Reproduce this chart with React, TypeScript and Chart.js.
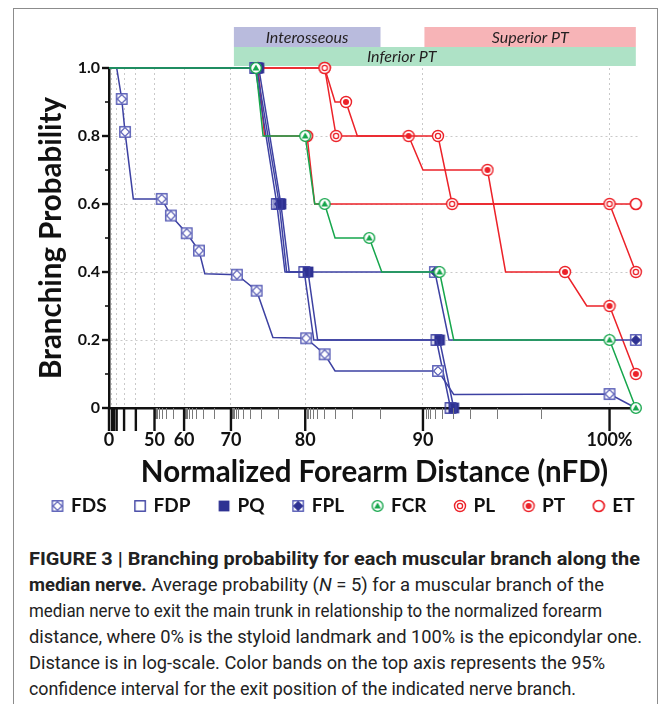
import React, { useEffect, useLayoutEffect, useRef } from 'react';
import { Chart, registerables } from 'chart.js';

Chart.register(...registerables);

// ---------- axis transform (log-like nFD axis) ----------
const toV = (n: number) => Math.pow(10, n / 50);
const X_MIN_NFD = 0;
const X_MAX_NFD = 101.27;

// ---------- ticks ----------
const xGridNFD = [0, 10, 20, 30, 40, 50, 60, 70, 80, 90, 100];
const xTickLabels = ['0', '', '', '', '', '50', '60', '70', '80', '90', '100%'];
const xLongMarksNFD = [0, 10, 15, 20, 30, 40, 50, 60, 70, 80, 90, 100];
const xMinorIntervals = [50, 60, 70, 80, 90, 100];
const yTickVals = [0, 0.2, 0.4, 0.6, 0.8, 1.0];
const yTickLabels = ['0', '0.2', '0.4', '0.6', '0.8', '1.0'];
const yMinorVals = [0.1, 0.3, 0.5, 0.7, 0.9];

// ---------- confidence bands on top axis ----------
const bandNames = ['Interosseous', 'Superior PT', 'Inferior PT'];
const bandStart = [70.5, 90.1, 70.5];
const bandEnd = [86.9, 101.1, 101.1];
const bandLabelAt = [80.2, 96.3, 88.5];
const bandRow = [0, 0, 1];
const bandColors = ['#b9bbdd', '#f7b4b7', '#aee2c6'];

// ---------- series (x in nFD, y probability, m = marker shown) ----------
const fdsX = [0, 20.1, 27.3, 31.0, 38.2, 52.9, 56.1, 60.7, 63.7, 65.0, 71.0, 74.0, 76.2, 80.1, 82.0, 83.0, 91.0, 92.0, 100.0, 101.1];
const fdsY = [1.0, 1.0, 0.909, 0.812, 0.615, 0.615, 0.566, 0.514, 0.463, 0.395, 0.392, 0.345, 0.207, 0.205, 0.158, 0.109, 0.109, 0.04, 0.041, 0.0];
const fdsM = [0, 0, 1, 1, 0, 1, 1, 1, 1, 0, 1, 1, 0, 1, 1, 0, 1, 0, 1, 0];

const fdpX = [0, 73.8, 76.7, 77.7, 79.9, 80.9, 90.9, 91.8];
const fdpY = [1.0, 1.0, 0.6, 0.4, 0.4, 0.2, 0.2, 0.0];
const fdpM = [0, 1, 1, 0, 1, 0, 1, 1];

const pqX = [0, 74.3, 77.2, 78.2, 80.3, 81.3, 91.1, 92.0];
const pqY = [1.0, 1.0, 0.6, 0.4, 0.4, 0.2, 0.2, 0.0];
const pqM = [0, 1, 1, 0, 1, 0, 1, 1];

const fplX = [0, 74.0, 77.0, 77.9, 90.8, 91.7, 101.1];
const fplY = [1.0, 1.0, 0.6, 0.4, 0.4, 0.2, 0.2];
const fplM = [0, 1, 1, 0, 1, 0, 1];

const fcrX = [0, 73.9, 74.9, 80.0, 81.0, 82.0, 83.0, 86.0, 87.0, 91.1, 92.0, 100.0, 101.1];
const fcrY = [1.0, 1.0, 0.8, 0.8, 0.6, 0.6, 0.5, 0.5, 0.4, 0.4, 0.2, 0.2, 0.0];
const fcrM = [0, 1, 0, 1, 0, 1, 0, 1, 0, 1, 0, 1, 1];

const plX = [0, 82.0, 83.1, 91.0, 91.9, 100.0, 101.1];
const plY = [1.0, 1.0, 0.8, 0.8, 0.6, 0.6, 0.4];
const plM = [0, 1, 1, 1, 1, 1, 1];

const ptX = [0, 82.0, 83.0, 84.0, 85.0, 89.0, 90.0, 94.0, 95.0, 98.0, 99.0, 100.0, 101.1];
const ptY = [1.0, 1.0, 0.9, 0.9, 0.8, 0.8, 0.7, 0.7, 0.4, 0.4, 0.3, 0.3, 0.1];
const ptM = [0, 1, 0, 1, 0, 1, 0, 1, 0, 1, 0, 1, 1];

const etX = [0, 74.2, 75.1, 80.2, 81.0, 101.1];
const etY = [1.0, 1.0, 0.8, 0.8, 0.6, 0.6];
const etM = [0, 1, 0, 1, 0, 1];

const BLUE = '#3d41a2';
const NAVY = '#2e3192';
const GREEN = '#16a64c';
const RED = '#ec2229';

type Kind = 'FDS' | 'FDP' | 'PQ' | 'FPL' | 'FCR' | 'PL' | 'PT' | 'ET';

function makeMarker(kind: Kind): HTMLCanvasElement {
  const s = 14;
  const c = document.createElement('canvas');
  c.width = s;
  c.height = s;
  const g = c.getContext('2d')!;
  const m = s / 2;
  const sq = (stroke: string, fill: string | null) => {
    const h = 5.2;
    if (fill) {
      g.fillStyle = fill;
      g.fillRect(m - h, m - h, 2 * h, 2 * h);
    }
    g.strokeStyle = stroke;
    g.lineWidth = 1.4;
    g.strokeRect(m - h, m - h, 2 * h, 2 * h);
  };
  const diamond = (stroke: string, fill: string) => {
    const d = 4.4;
    g.beginPath();
    g.moveTo(m, m - d);
    g.lineTo(m + d, m);
    g.lineTo(m, m + d);
    g.lineTo(m - d, m);
    g.closePath();
    g.fillStyle = fill;
    g.fill();
    g.strokeStyle = stroke;
    g.lineWidth = 1.1;
    g.stroke();
  };
  const circ = (r: number, stroke: string, fill: string | null, lw = 1.4) => {
    g.beginPath();
    g.arc(m, m, r, 0, Math.PI * 2);
    if (fill) {
      g.fillStyle = fill;
      g.fill();
    }
    g.strokeStyle = stroke;
    g.lineWidth = lw;
    g.stroke();
  };
  switch (kind) {
    case 'FDS':
      sq('#5358b4', '#ffffff');
      diamond('#5358b4', '#ffffff');
      break;
    case 'FDP':
      sq(BLUE, null);
      break;
    case 'PQ':
      g.fillStyle = NAVY;
      g.fillRect(m - 5.4, m - 5.4, 10.8, 10.8);
      break;
    case 'FPL':
      sq('#5358b4', '#ffffff');
      diamond(NAVY, NAVY);
      break;
    case 'FCR':
      circ(5.4, GREEN, '#ffffff');
      g.beginPath();
      g.moveTo(m, m - 3.6);
      g.lineTo(m + 3.4, m + 2.6);
      g.lineTo(m - 3.4, m + 2.6);
      g.closePath();
      g.fillStyle = GREEN;
      g.fill();
      break;
    case 'PL':
      circ(5.5, RED, '#ffffff');
      circ(2.6, RED, null, 1.3);
      break;
    case 'PT':
      circ(5.5, RED, '#ffffff');
      g.beginPath();
      g.arc(m, m, 3.0, 0, Math.PI * 2);
      g.fillStyle = RED;
      g.fill();
      break;
    case 'ET':
      circ(5.5, RED, '#ffffff', 1.7);
      break;
  }
  return c;
}

const decorPlugin = {
  id: 'decor',
  beforeDatasetsDraw(chart: any) {
    const { ctx, chartArea: a, scales } = chart;
    const x = scales.x;
    ctx.save();
    for (let i = 0; i < bandNames.length; i++) {
      const x1 = x.getPixelForValue(toV(bandStart[i]));
      const x2 = x.getPixelForValue(toV(bandEnd[i]));
      const top = a.top - 41 + bandRow[i] * 20;
      const h = bandRow[i] === 0 ? 20 : 19;
      ctx.fillStyle = bandColors[i];
      ctx.fillRect(x1, top, x2 - x1, h);
      ctx.fillStyle = '#231f20';
      ctx.font = 'italic 16px Lato';
      ctx.textAlign = 'center';
      ctx.textBaseline = 'middle';
      ctx.fillText(bandNames[i], x.getPixelForValue(toV(bandLabelAt[i])), top + h / 2 + 0.5);
    }
    ctx.restore();
  },
  afterDraw(chart: any) {
    const { ctx, chartArea: a, scales } = chart;
    const x = scales.x;
    const y = scales.y;
    ctx.save();
    // x minor ticks
    ctx.strokeStyle = '#7a7a7a';
    ctx.lineWidth = 1;
    for (let i = 0; i < xMinorIntervals.length - 1; i++) {
      const va = toV(xMinorIntervals[i]);
      const vb = toV(xMinorIntervals[i + 1]);
      for (let k = 1; k <= 9; k++) {
        const v = va + (vb - va) * Math.pow(10, -0.2 * k);
        const px = Math.round(x.getPixelForValue(v)) + 0.5;
        ctx.beginPath();
        ctx.moveTo(px, a.bottom);
        ctx.lineTo(px, a.bottom + 11);
        ctx.stroke();
      }
    }
    // x long marks
    ctx.strokeStyle = '#111';
    ctx.lineWidth = 2.4;
    xLongMarksNFD.forEach((n) => {
      const px = x.getPixelForValue(toV(n));
      ctx.beginPath();
      ctx.moveTo(px, a.bottom);
      ctx.lineTo(px, a.bottom + 23);
      ctx.stroke();
    });
    // y ticks
    yTickVals.forEach((v) => {
      const py = y.getPixelForValue(v);
      ctx.lineWidth = 2.4;
      ctx.beginPath();
      ctx.moveTo(a.left - 7, py);
      ctx.lineTo(a.left, py);
      ctx.stroke();
    });
    yMinorVals.forEach((v) => {
      const py = y.getPixelForValue(v);
      ctx.lineWidth = 1.6;
      ctx.beginPath();
      ctx.moveTo(a.left - 4, py);
      ctx.lineTo(a.left, py);
      ctx.stroke();
    });
    ctx.restore();
  },
};

const captionWidths = [611, 575, 573, 613, 576, 547];

function Caption() {
  const refs = useRef<(HTMLSpanElement | null)[]>([]);
  useLayoutEffect(() => {
    refs.current.forEach((el, i) => {
      if (!el) return;
      el.style.transform = 'none';
      const w = el.getBoundingClientRect().width;
      if (w > 0) el.style.transform = `scaleX(${captionWidths[i] / w})`;
    });
  }, []);
  const lineStyle: React.CSSProperties = { height: 26, lineHeight: '26px', whiteSpace: 'nowrap' };
  const spanStyle: React.CSSProperties = { display: 'inline-block', transformOrigin: '0 50%' };
  const lines: React.ReactNode[] = [
    <b>FIGURE 3 | Branching probability for each muscular branch along the</b>,
    <>
      <b>median nerve.</b> Average probability (<i>N</i> = 5) for a muscular branch of the
    </>,
    <>median nerve to exit the main trunk in relationship to the normalized forearm</>,
    <>distance, where 0% is the styloid landmark and 100% is the epicondylar one.</>,
    <>Distance is in log-scale. Color bands on the top axis represents the 95%</>,
    <>confidence interval for the exit position of the indicated nerve branch.</>,
  ];
  return (
    <div
      style={{
        position: 'absolute',
        left: 29,
        top: 546,
        fontFamily: 'Roboto, "Liberation Sans", sans-serif',
        fontSize: 18,
        color: '#222',
      }}
    >
      {lines.map((l, i) => (
        <div key={i} style={lineStyle}>
          <span
            ref={(el) => {
              refs.current[i] = el;
            }}
            style={spanStyle}
          >
            {l}
          </span>
        </div>
      ))}
    </div>
  );
}

export default function App() {
  const canvasRef = useRef<HTMLCanvasElement>(null);

  useEffect(() => {
    if (!canvasRef.current) return;
    Chart.defaults.font.family = 'Lato, "Open Sans", sans-serif';
    const series = [
      { label: 'FDS', xs: fdsX, ys: fdsY, ms: fdsM, color: BLUE },
      { label: 'FDP', xs: fdpX, ys: fdpY, ms: fdpM, color: BLUE },
      { label: 'PQ', xs: pqX, ys: pqY, ms: pqM, color: BLUE },
      { label: 'FPL', xs: fplX, ys: fplY, ms: fplM, color: BLUE },
      { label: 'FCR', xs: fcrX, ys: fcrY, ms: fcrM, color: GREEN },
      { label: 'PL', xs: plX, ys: plY, ms: plM, color: RED },
      { label: 'PT', xs: ptX, ys: ptY, ms: ptM, color: RED },
      { label: 'ET', xs: etX, ys: etY, ms: etM, color: RED },
    ];
    const chart = new Chart(canvasRef.current, {
      type: 'line',
      data: {
        datasets: series.map((s) => ({
          label: s.label,
          data: s.xs.map((xv, j) => ({ x: toV(xv), y: s.ys[j] })),
          borderColor: s.color,
          backgroundColor: s.color,
          borderWidth: 1.5,
          tension: 0,
          clip: false,
          order: s.label === 'FCR' ? -1 : 0,
          pointStyle: makeMarker(s.label as Kind),
          pointRadius: (c: any) => (s.ms[c.dataIndex] ? 6 : 0),
          pointHoverRadius: (c: any) => (s.ms[c.dataIndex] ? 6 : 0),
        })),
      },
      options: {
        animation: false,
        responsive: false,
        events: [],
        layout: { padding: { left: 19, right: 0, top: 68, bottom: 4.5 } },
        plugins: {
          tooltip: { enabled: false },
          legend: {
            display: true,
            position: 'bottom',
            align: 'center',
            labels: {
              usePointStyle: true,
              boxWidth: 8,
              padding: 29.5,
              color: '#111',
              font: { size: 19, weight: 'bold' },
              sort: (a: any, b: any) => a.datasetIndex - b.datasetIndex,
            },
          },
        },
        scales: {
          x: {
            type: 'linear',
            min: toV(X_MIN_NFD),
            max: toV(X_MAX_NFD),
            afterBuildTicks: (s: any) => {
              s.ticks = xGridNFD.map((n) => ({ value: toV(n) }));
            },
            afterFit: (s: any) => {
              s.height = 59;
            },
            ticks: {
              autoSkip: false,
              maxRotation: 0,
              minRotation: 0,
              padding: 21,
              color: '#111',
              font: { size: 18, weight: 'bold' },
              callback: (_v: any, i: number) => xTickLabels[i],
            },
            grid: {
              drawTicks: false,
              lineWidth: 1,
              color: (c: any) => (c.index === 0 ? 'rgba(0,0,0,0)' : '#c9c9c9'),
            },
            border: { display: true, color: '#111', width: 2.5, dash: [2, 3] },
            title: {
              display: true,
              text: 'Normalized Forearm Distance (nFD)',
              color: '#111',
              font: { size: 29.5, weight: 'bold' },
              padding: { top: 0, bottom: -23.5 },
            },
          },
          y: {
            type: 'linear',
            min: 0,
            max: 1,
            afterBuildTicks: (s: any) => {
              s.ticks = yTickVals.map((v) => ({ value: v }));
            },
            afterFit: (s: any) => {
              s.width = 90;
            },
            ticks: {
              padding: 9,
              color: '#111',
              font: { size: 16, weight: 'bold' },
              callback: (_v: any, i: number) => yTickLabels[i],
            },
            grid: {
              drawTicks: false,
              lineWidth: 1,
              color: (c: any) => (c.index > 0 && c.index < yTickVals.length - 1 ? '#c9c9c9' : 'rgba(0,0,0,0)'),
            },
            border: { display: true, color: '#111', width: 2.5, dash: [2, 3] },
            title: {
              display: true,
              text: 'Branching Probability',
              color: '#111',
              font: { size: 29.5, weight: 'bold' },
              padding: { top: 15, bottom: 0 },
            },
          },
          yRight: {
            type: 'linear',
            position: 'right',
            display: true,
            min: 0,
            max: 1,
            afterFit: (s: any) => {
              s.width = 29;
            },
            ticks: { display: false },
            grid: { display: false, drawTicks: false },
            border: { display: false },
          },
        },
      },
      plugins: [decorPlugin],
    } as any);
    return () => chart.destroy();
  }, []);

  return (
    <div style={{ position: 'absolute', left: 0, top: 0, width: 669, height: 704, overflow: 'hidden', background: '#fff' }}>
      <div
        style={{
          position: 'absolute',
          left: 13,
          top: 8,
          width: 645,
          height: 720,
          border: '1px solid #8c8c8c',
          boxSizing: 'border-box',
        }}
      />
      <canvas ref={canvasRef} width={669} height={530} style={{ position: 'absolute', left: 0, top: 0 }} />
      <Caption />
    </div>
  );
}
